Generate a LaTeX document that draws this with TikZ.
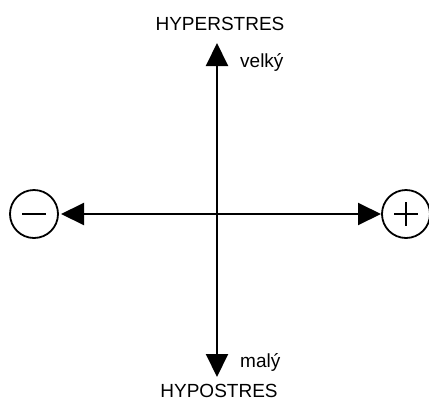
\documentclass[tikz,border=0pt]{standalone}
\usepackage{fontspec}
\setmainfont{Liberation Sans}
\usetikzlibrary{arrows.meta,positioning}
\tikzset{
  osa/.style={
    -{Triangle[length=23pt,width=22pt]},
    line width=2pt,
    black
  },
  znak/.style={
    circle,
    draw=black,
    line width=1.8pt,
    minimum size=48pt,
    inner sep=0pt
  },
  popis/.style={
    inner sep=0pt,
    font=\fontsize{19}{22}\selectfont
  },
  symbol/.style={
    line width=2pt
  }
}

\begin{document}
\begin{tikzpicture}[x=1pt,y=-1pt]
\useasboundingbox (0,0) rectangle (429,400);
\coordinate (stred) at (217,214);
\coordinate (nahore) at (217,43);
\coordinate (dole) at (217,377);
\coordinate (vlevo) at (61,214);
\coordinate (vpravo) at (381,214);
\node[znak] (minus) at (34,214) {};
\node[znak] (plus) at (406,214) {};
\draw[osa] (stred) -- (nahore);
\draw[osa] (stred) -- (dole);
\draw[osa] (stred) -- (vlevo);
\draw[osa] (stred) -- (vpravo);
\draw[symbol] (minus.center) ++(-12,0) -- ++(24,0);
\draw[symbol] (plus.center) ++(-12,0) -- ++(24,0);
\draw[symbol] (plus.center) ++(0,-12) -- ++(0,24);
\node[popis] (hyper) at (220,24) {HYPERSTRES};
\node[popis] (hypo) at (219,391) {HYPOSTRES};
\node[popis,anchor=base west] (velky) at (240,67) {velký};
\node[popis,anchor=base west] (maly) at (240,367) {malý};
\end{tikzpicture}
\end{document}
